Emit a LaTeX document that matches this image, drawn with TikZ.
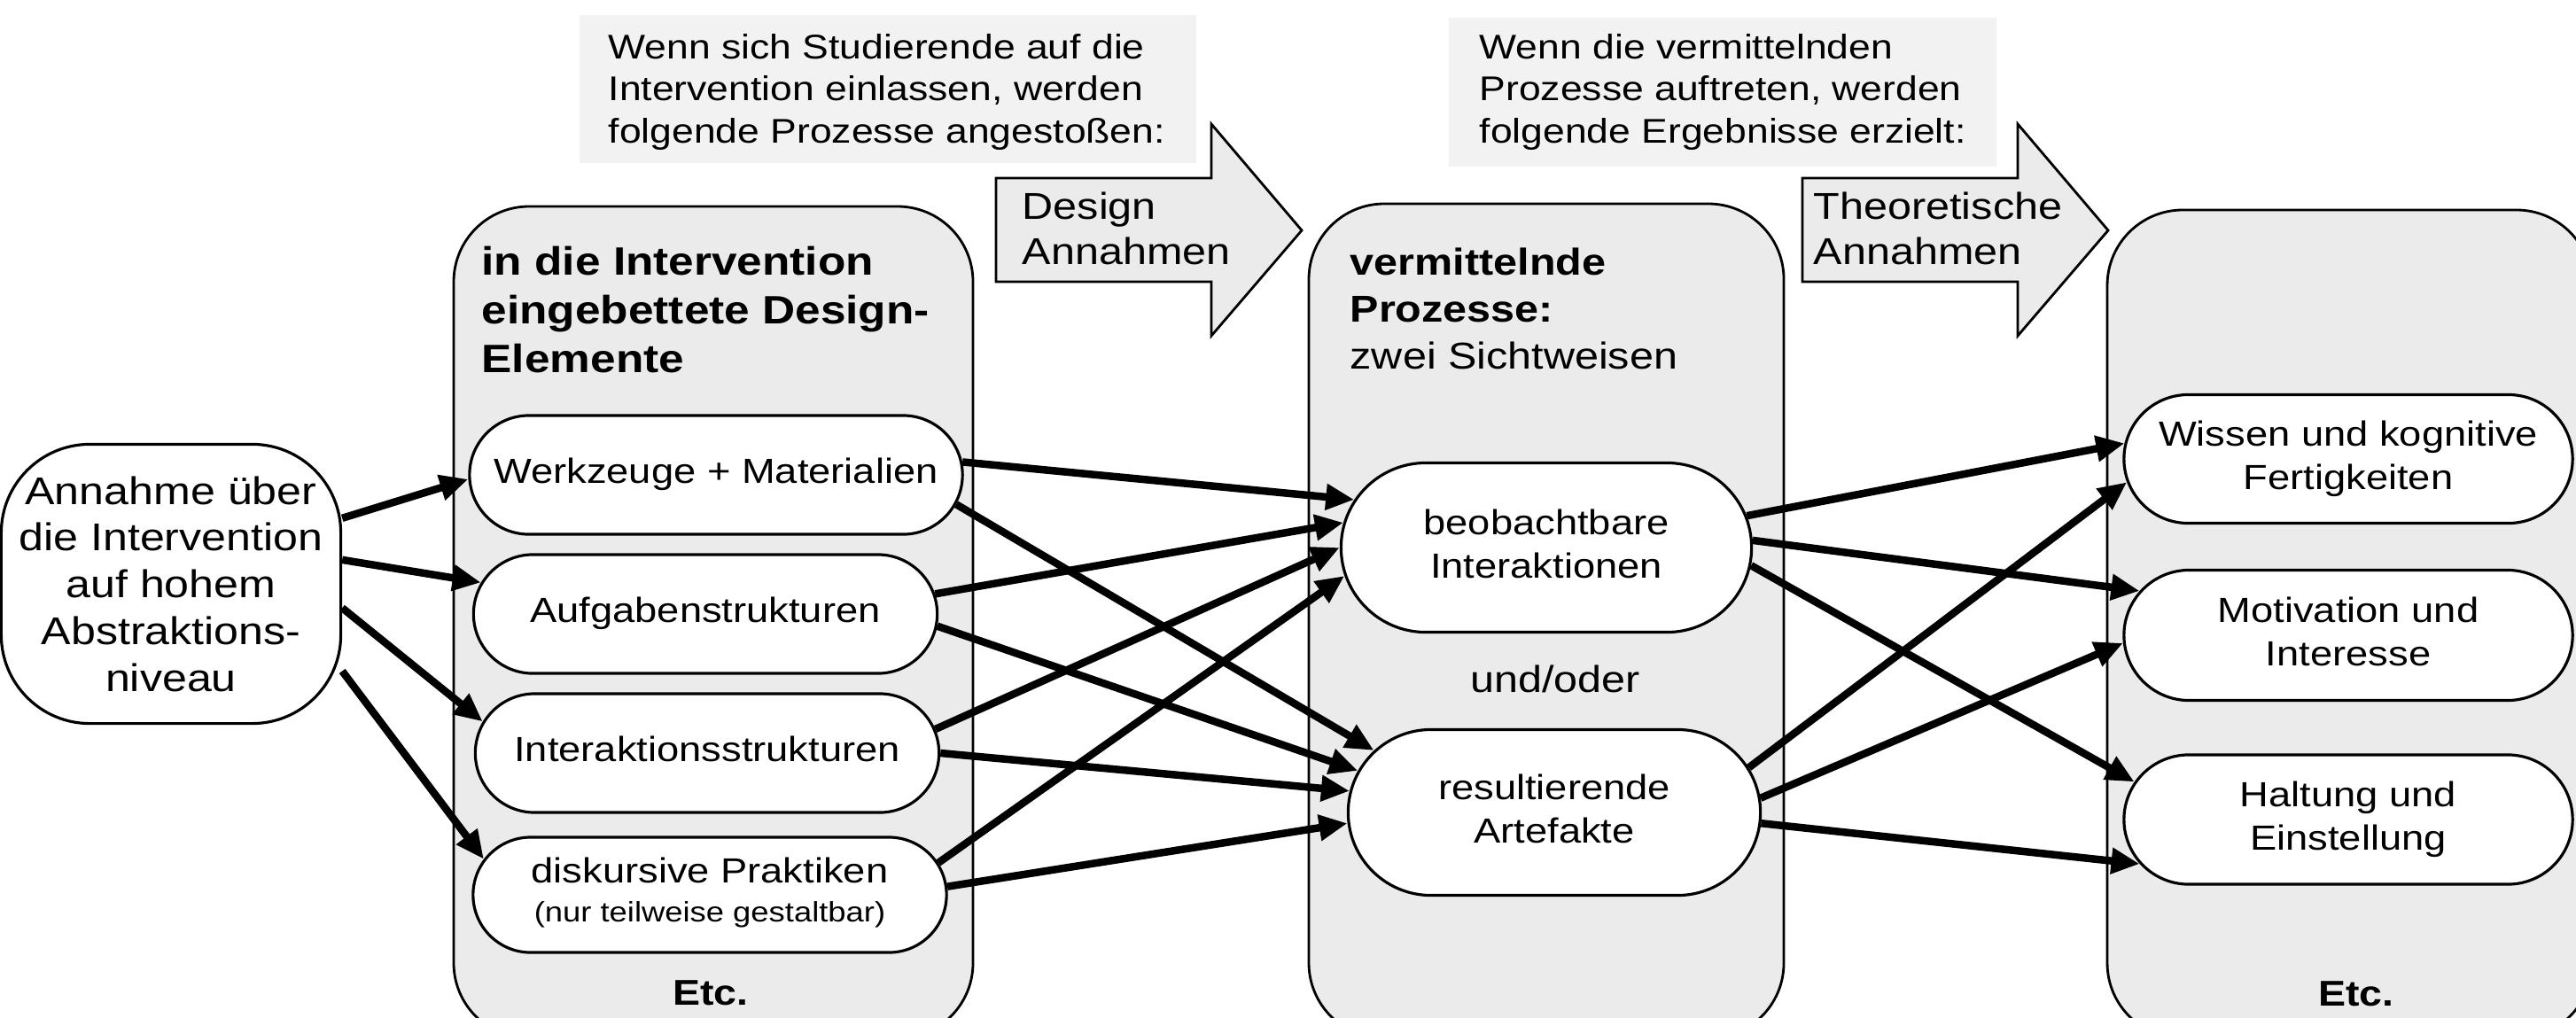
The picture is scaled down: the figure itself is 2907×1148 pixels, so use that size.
\documentclass[tikz,border=0pt]{standalone}
\usepackage{fontspec}
\setmainfont{Liberation Sans}[FakeStretch=1.15]
\usetikzlibrary{arrows.meta,shapes.misc}
\definecolor{panelgray}{HTML}{EBEBEB}
\definecolor{notegray}{HTML}{F2F2F2}
\newcommand{\pilltext}[1]{\makebox[0pt]{\begin{tabular}{@{}c@{}}#1\end{tabular}}}
\tikzset{
  panel/.style={draw, line width=0.8pt, fill=panelgray, rounded corners=0.85cm},
  note/.style={fill=notegray},
  notetext/.style={anchor=base west, inner sep=0pt, align=left, font=\fontsize{11}{13.5}\selectfont},
  bigarrow/.style={draw, line width=0.8pt, fill=panelgray},
  pill/.style={draw, line width=0.9pt, fill=white, rounded rectangle, inner sep=0pt, font=\fontsize{11.2}{14}\selectfont},
  link/.style={line width=0.085cm, -{Triangle[length=0.32cm,width=0.28cm]}},
}

\begin{document}
\begin{tikzpicture}[x=0.01cm, y=-0.01cm]
    \clip (0,0) rectangle (2907,1148);

    % grey columns
    \draw[panel] (512,233) rectangle (1098,1172);
    \draw[panel] (1477,230) rectangle (2013,1172);
    \draw[panel] (2378,237) rectangle (2925,1172);

    % explanations on top (anchored at the last baseline)
    \fill[note] (654,17) rectangle (1350,184);
    \fill[note] (1635,20) rectangle (2253,188);
    \node[notetext] (noteA) at (686,161) {Wenn sich Studierende auf die\\Intervention einlassen, werden\\folgende Prozesse angestoßen:};
    \node[notetext] (noteB) at (1669,161) {Wenn die vermittelnden\\Prozesse auftreten, werden\\folgende Ergebnisse erzielt:};

    % block arrows
    \foreach \ax in {1124,2034}
      \draw[bigarrow] (\ax,201) -- ++(243,0) -- ++(0,-61) -- ++(102,120) -- ++(-102,119) -- ++(0,-61) -- ++(-243,0) -- cycle;
    \node[anchor=base west, inner sep=0pt, align=left, font=\fontsize{12}{14.5}\selectfont] (designA) at (1153,298) {Design\\Annahmen};
    \node[anchor=base west, inner sep=0pt, align=left, font=\fontsize{12}{14.5}\selectfont] (theoA) at (2046,298) {Theoretische\\Annahmen};

    % column titles
    \node[anchor=base west, inner sep=0pt, align=left, font=\bfseries\fontsize{12.7}{15.5}\selectfont] (elemtitle) at (543,420) {in die Intervention\\eingebettete Design-\\Elemente};
    \node[anchor=base west, inner sep=0pt, align=left, font=\fontsize{12}{15}\selectfont] (proctitle) at (1523,416) {\textbf{vermittelnde}\\\textbf{Prozesse:}\\zwei Sichtweisen};
    \node[font=\bfseries\fontsize{11.5}{14}\selectfont] (etcA) at (802,1121) {Etc.};
    \node[font=\bfseries\fontsize{11.5}{14}\selectfont] (etcC) at (2659,1122) {Etc.};

    % assumption
    \node[draw, line width=0.9pt, fill=white, rounded corners=1cm, minimum width=3.83cm, minimum height=3.15cm,
          inner sep=0pt, align=center, font=\fontsize{12.4}{15}\selectfont] (ann) at (193,659)
          {Annahme über\\die Intervention\\auf hohem\\Abstraktions-\\niveau};

    % design elements
    \node[pill, minimum width=5.56cm, minimum height=1.34cm] (werk) at (808,536) {\pilltext{Werkzeuge + Materialien}};
    \node[pill, minimum width=5.23cm, minimum height=1.34cm] (aufg) at (796,693) {\pilltext{Aufgabenstrukturen}};
    \node[pill, minimum width=5.23cm, minimum height=1.34cm] (inter) at (798,850) {\pilltext{Interaktionsstrukturen}};
    \node[pill, minimum width=5.34cm, minimum height=1.30cm, font=\fontsize{11.2}{12.5}\selectfont] (disk) at (801,1010)
          {\pilltext{diskursive Praktiken\\{\fontsize{9}{11}\selectfont (nur teilweise gestaltbar)}}};

    % mediating processes
    \node[pill, minimum width=4.63cm, minimum height=1.91cm] (beob) at (1745,618) {\pilltext{beobachtbare\\Interaktionen}};
    \node[font=\fontsize{12}{14}\selectfont] (undoder) at (1755,766) {und/oder};
    \node[pill, minimum width=4.65cm, minimum height=1.87cm] (resu) at (1754,917) {\pilltext{resultierende\\Artefakte}};

    % outcomes
    \node[pill, minimum width=5.06cm, minimum height=1.45cm] (wiss) at (2650,518) {\pilltext{Wissen und kognitive\\Fertigkeiten}};
    \node[pill, minimum width=5.06cm, minimum height=1.47cm] (moti) at (2650,717) {\pilltext{Motivation und\\Interesse}};
    \node[pill, minimum width=5.06cm, minimum height=1.46cm] (halt) at (2650,925) {\pilltext{Haltung und\\Einstellung}};

    % connectors
    \foreach \src/\dst in {ann.21/werk.181, ann.8/aufg.172, ann.352/inter.172, ann.333/disk.171}
      \draw[link] (\src) -- (\dst);
    \foreach \src/\dst in {werk.3/beob.166, werk.353/resu.161, aufg.5/beob.173, aufg.357/resu.168,
                           inter.6/beob.180, inter.0/resu.174, disk.8/beob.188, disk.2/resu.183}
      \draw[link] (\src) -- (\dst);
    \foreach \src/\dst in {beob.9/wiss.176, beob.2/moti.168, beob.355/halt.170,
                           resu.13/wiss.186, resu.4/moti.182, resu.357/halt.192}
      \draw[link] (\src) -- (\dst);
\end{tikzpicture}
\end{document}
